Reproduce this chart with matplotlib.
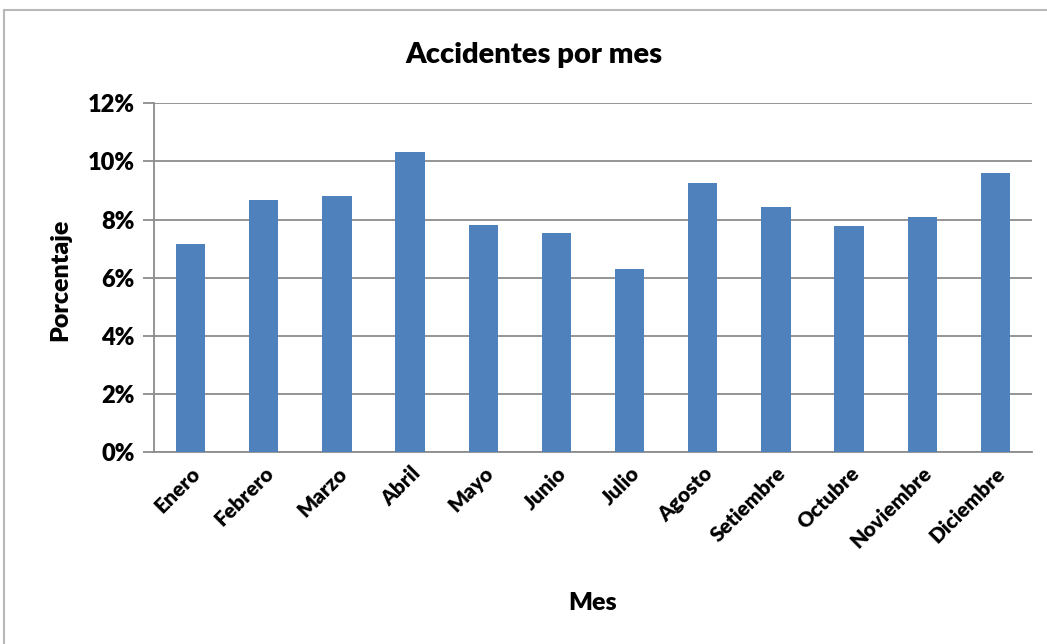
import matplotlib.pyplot as plt
from matplotlib.patches import Rectangle
from matplotlib.ticker import FuncFormatter, MultipleLocator

plt.rcParams['font.family'] = ['Lato', 'DejaVu Sans']

# porcentaje de accidentes por mes
meses = ['Enero', 'Febrero', 'Marzo', 'Abril', 'Mayo', 'Junio', 'Julio',
         'Agosto', 'Setiembre', 'Octubre', 'Noviembre', 'Diciembre']
porcentajes = [7.15, 8.67, 8.82, 10.32, 7.83, 7.55, 6.30,
               9.26, 8.44, 7.77, 8.10, 9.60]

peso = 'heavy'

fig = plt.figure(figsize=(10.47, 6.44), dpi=100)
ax = fig.add_axes([154 / 1047, 1 - 452.3 / 644, 878 / 1047, 349 / 644])

# marco gris alrededor del grafico
fig.patches.append(Rectangle((4 / 1047, -0.01), 1.0, 1 - 10 / 644 + 0.01,
                             transform=fig.transFigure, fill=False,
                             edgecolor='#b8b8b8', linewidth=1.5))

x = range(len(meses))
ax.bar(x, porcentajes, width=0.4, color='#4F81BD', zorder=3)

ax.set_xlim(-0.5, len(meses) - 0.5)
ax.set_ylim(0, 12)
ax.yaxis.set_major_locator(MultipleLocator(2))
ax.yaxis.set_major_formatter(FuncFormatter(lambda v, p: f'{v:.0f}%'))
ax.grid(axis='y', color='#8c8c8c', linewidth=1.3, zorder=0)

for s in ['top', 'right']:
    ax.spines[s].set_visible(False)
ax.spines['left'].set_color('#8c8c8c')
ax.spines['bottom'].set_color('#8c8c8c')
ax.spines['left'].set_linewidth(1.3)
ax.spines['bottom'].set_linewidth(1.3)

ax.tick_params(axis='y', length=8, color='#8c8c8c', width=1.3, pad=6,
               labelsize=17)
ax.tick_params(axis='x', length=0, pad=8, labelsize=15)
ax.set_xticks(list(x))
ax.set_xticklabels(meses, rotation=45, ha='right', rotation_mode='anchor')
for lbl in ax.get_xticklabels() + ax.get_yticklabels():
    lbl.set_fontweight(peso)

fig.text(534 / 1047, 1 - 55 / 644, 'Accidentes por mes', ha='center',
         va='center', fontsize=21, fontweight=peso)
fig.text(593 / 1047, 1 - 603 / 644, 'Mes', ha='center', va='center',
         fontsize=18, fontweight=peso)
fig.text(60 / 1047, 1 - 280 / 644, 'Porcentaje', ha='center', va='center',
         rotation=90, fontsize=18, fontweight=peso)

fig.savefig('out.png', dpi=100)
